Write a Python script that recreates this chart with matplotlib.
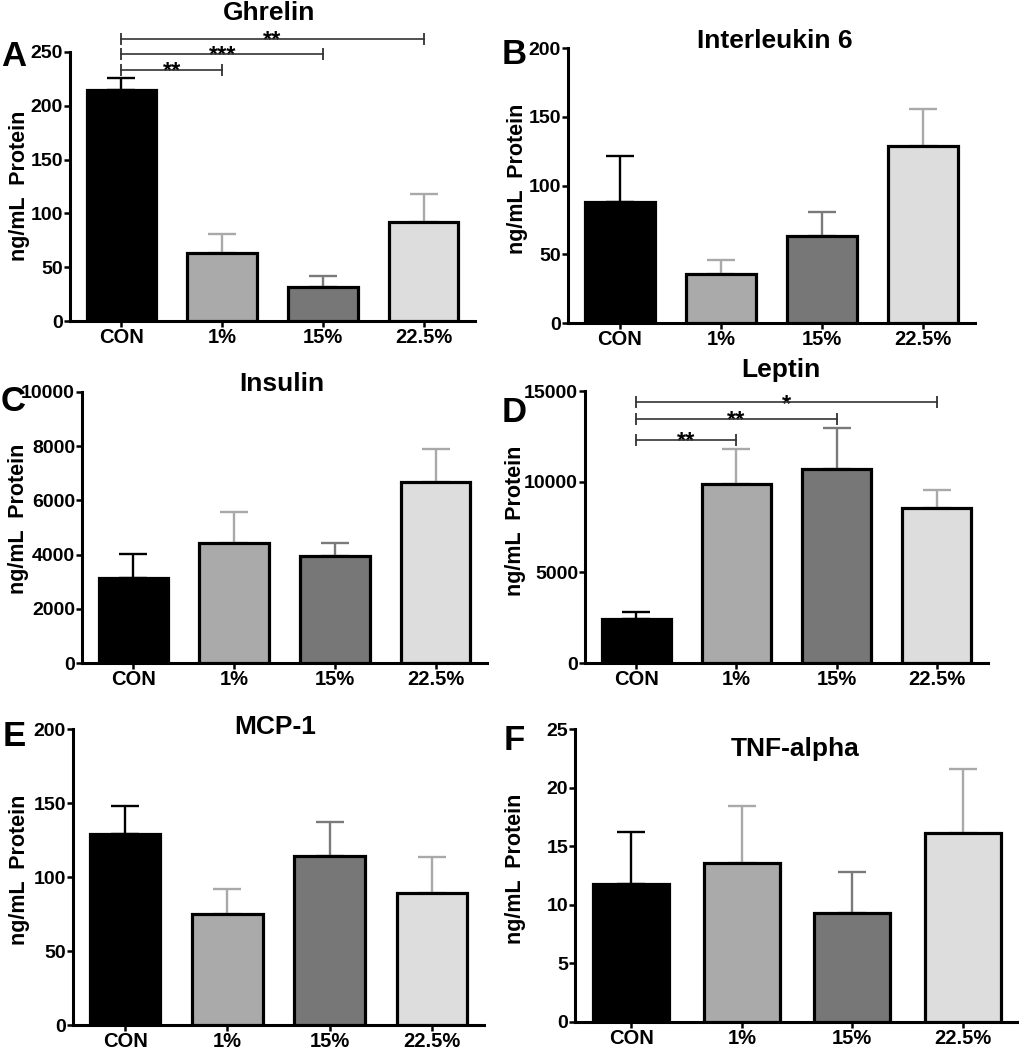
import matplotlib
matplotlib.use("Agg")
import matplotlib.pyplot as plt
import numpy as np

plt.rcParams['font.family'] = ['Liberation Sans', 'DejaVu Sans']
plt.rcParams['font.weight'] = 'bold'

# groups and colours
groups = ["CON", "1%", "15%", "22.5%"]
bar_colors = ["#000000", "#aaaaaa", "#777777", "#dddddd"]
err_colors = ["#000000", "#a9a9a9", "#7a7a7a", "#a9a9a9"]

# mean values and SEM
ghrelin = [215, 63, 32, 92]
ghrelin_sem = [11, 18, 10, 26]
il6 = [88, 35.5, 63.5, 128.5]
il6_sem = [33.5, 10, 17.5, 27]
insulin = [3130, 4420, 3950, 6690]
insulin_sem = [895, 1150, 465, 1190]
leptin = [2420, 9850, 10690, 8560]
leptin_sem = [370, 1940, 2290, 970]
mcp1 = [129, 74.7, 114, 89]
mcp1_sem = [18.7, 16.9, 23, 24.5]
tnfa = [11.8, 13.55, 9.27, 16.16]
tnfa_sem = [4.4, 4.87, 3.54, 5.44]

# significance brackets: (group from, group to, height, label)
ghrelin_sig = [(0, 1, 233.5, "**"), (0, 2, 248, "***"), (0, 3, 262, "**")]
leptin_sig = [(0, 1, 12320, "**"), (0, 2, 13460, "**"), (0, 3, 14380, "*")]

W, H = 1019, 1050

# name, letter, values, sem, ymax, ystep, sig, axis box px (left, right, top, bottom),
# title pos px, letter pos px, ylabel pos px
panels = [
    ("Ghrelin", "A", ghrelin, ghrelin_sem, 250, 50, ghrelin_sig,
     (70, 475, 52, 321), (269, 13), (14, 56), (20, 186)),
    ("Interleukin 6", "B", il6, il6_sem, 200, 50, [],
     (568, 975, 48, 323), (775, 41), (514, 54), (517, 179)),
    ("Insulin", "C", insulin, insulin_sem, 10000, 2000, [],
     (82, 487, 392, 663), (282, 384), (13, 401), (19, 519)),
    ("Leptin", "D", leptin, leptin_sem, 15000, 5000, leptin_sig,
     (585, 988, 391, 663), (781, 370), (514, 413), (515, 521)),
    ("MCP-1", "E", mcp1, mcp1_sem, 200, 50, [],
     (73, 484, 729, 1025), (275, 727), (14, 736), (20, 870)),
    ("TNF-alpha", "F", tnfa, tnfa_sem, 25, 5, [],
     (575, 1019, 729, 1022), (795, 749), (514, 741), (515, 869)),
]

fig = plt.figure(figsize=(W / 100, H / 100), dpi=100)

for (name, letter, vals, sem, ymax, ystep, sig, box, tpos, lpos, ypos) in panels:
    left, right, top, bottom = box
    ax = fig.add_axes([left / W, 1 - bottom / H, (right - left) / W, (bottom - top) / H])
    x = np.arange(len(groups))

    ax.bar(x, vals, width=0.69, color=bar_colors, edgecolor="black",
           linewidth=2.3, zorder=3)
    for i in range(len(groups)):
        ax.errorbar(x[i], vals[i], yerr=[[0], [sem[i]]], fmt="none",
                    ecolor=err_colors[i], elinewidth=1.7, capsize=10,
                    capthick=1.7, zorder=2)

    # significance brackets
    for g0, g1, yy, lab in sig:
        ax.plot([x[g0], x[g1]], [yy, yy], color="#333333", lw=1.2,
                clip_on=False, zorder=4)
        ax.plot([x[g0], x[g1]], [yy, yy], ls="none", marker="|", markersize=8,
                mew=1.3, color="#333333", clip_on=False, zorder=4)
        ax.annotate(lab, xy=((x[g0] + x[g1]) / 2, yy), xytext=(0, -6),
                    textcoords="offset points", ha="center", va="baseline",
                    fontsize=17, fontweight="bold", annotation_clip=False)

    ax.set_xlim(-0.51, 3.51)
    ax.set_ylim(0, ymax)
    ax.set_yticks(np.arange(0, ymax + ystep / 2, ystep))
    ax.set_xticks(x)
    ax.set_xticklabels(groups)
    ax.spines["top"].set_visible(False)
    ax.spines["right"].set_visible(False)
    ax.spines["left"].set_linewidth(2.2)
    ax.spines["bottom"].set_linewidth(2.2)
    ax.tick_params(axis="y", length=4, width=1.8, labelsize=14, pad=1)
    ax.tick_params(axis="x", length=4, width=1.8, labelsize=14.5, pad=1)
    for t in ax.get_xticklabels() + ax.get_yticklabels():
        t.set_fontweight("bold")

    fig.text(tpos[0] / W, 1 - tpos[1] / H, name, ha="center", va="center",
             fontsize=19, fontweight="bold")
    fig.text(lpos[0] / W, 1 - lpos[1] / H, letter, ha="center", va="center",
             fontsize=25, fontweight="bold")
    fig.text(ypos[0] / W, 1 - ypos[1] / H, "ng/mL  Protein", ha="center",
             va="center", rotation=90, fontsize=15.5, fontweight="bold")

fig.savefig("out.png", dpi=100)
